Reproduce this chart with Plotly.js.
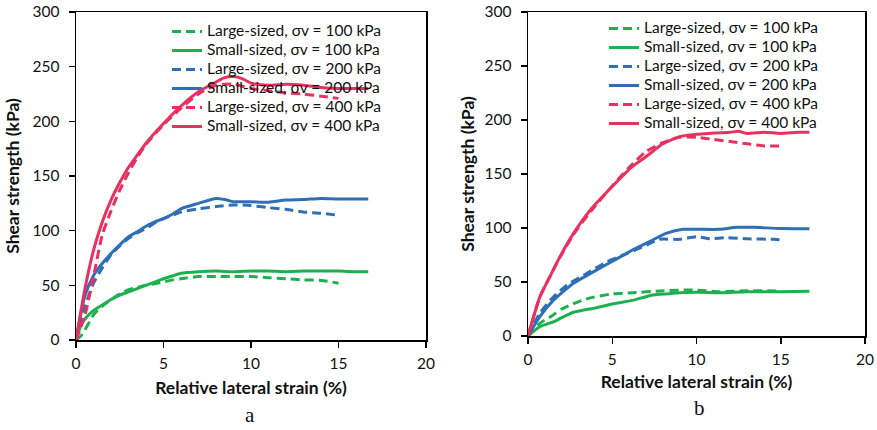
<!DOCTYPE html>
<html>
<head>
<meta charset="utf-8">
<script src="https://cdn.plot.ly/plotly-3.0.1.min.js"></script>
<style>html,body{margin:0;padding:0;background:#fff;}#chart{width:877px;height:430px;}</style>
</head>
<body>
<div id="chart"></div>
<script>
// ---- Panel a ----
const aL100x = [0, 0.3, 0.5, 1, 1.5, 2, 2.5, 3, 3.5, 4, 4.5, 5, 5.5, 6, 7, 8, 9, 10, 11, 12, 13, 14, 15];
const aL100y = [0, 4, 9, 23, 31, 37, 42, 46, 48, 50, 51.5, 53, 55, 56, 58, 58, 58, 58, 57, 56, 55, 54.5, 52];
const aS100x = [0, 0.3, 0.5, 1, 1.5, 2, 2.5, 3, 3.5, 4, 4.5, 5, 5.5, 6, 7, 8, 9, 10, 11, 12, 13, 14, 15, 16, 16.7];
const aS100y = [0, 14, 19, 27, 32, 37, 41, 44, 47, 50, 53, 56, 58.5, 61, 62.5, 63, 62.5, 63, 63, 62.5, 63, 63, 63, 62.5, 62.5];
const aL200x = [0, 0.5, 1, 1.5, 2, 2.5, 3, 3.5, 4, 4.5, 5, 5.5, 6, 7, 8, 9, 10, 11, 12, 13, 14, 15];
const aL200y = [0, 30, 52, 66, 78, 86, 93, 98, 102, 107, 111, 114, 117, 120, 122, 123.5, 123, 121, 119.5, 117, 116, 114];
const aS200x = [0, 0.5, 1, 1.5, 2, 2.5, 3, 3.5, 4, 4.5, 5, 5.5, 6, 7, 8, 8.5, 9, 10, 11, 12, 13, 14, 15, 16, 16.7];
const aS200y = [0, 40, 59, 70, 79, 87, 94.5, 99, 104, 108, 111, 115, 120, 125, 129.5, 128.5, 126.5, 126.5, 126, 128, 128.5, 129.5, 129, 129, 129];
const aL400x = [0, 0.5, 1, 1.5, 2, 2.5, 3, 3.5, 4, 5, 6, 7, 8, 9, 10, 11, 12, 13, 14, 15];
const aL400y = [0, 22, 58, 96, 118, 137, 153, 167, 179, 197, 212, 225, 233, 234, 230, 228, 226, 225, 223, 221];
const aS400x = [0, 0.5, 1, 1.5, 2, 2.5, 3, 3.5, 4, 5, 6, 7, 8, 8.5, 9, 9.5, 10, 11, 12, 13, 14, 15, 16, 16.7];
const aS400y = [0, 46, 82, 108, 128, 144, 158, 169, 180, 198, 214, 227, 236, 240, 241, 239, 235, 233, 234, 233, 231, 230, 230, 230];

// ---- Panel b ----
const bL100x = [0, 0.7, 1.5, 2, 2.7, 3.3, 3.9, 5, 6.2, 7.8, 9.8, 11.4, 13, 15];
const bL100y = [0, 11.7, 19.4, 25, 30, 33.5, 36, 39, 40, 41.7, 42.6, 41, 42, 41.7];
const bS100x = [0, 0.7, 1.5, 2, 2.7, 3.3, 3.9, 5, 6.2, 7.4, 8.6, 10, 11.4, 13, 15, 16.7];
const bS100y = [0, 8.6, 13, 17, 22, 24, 25.6, 29.6, 33, 38, 39.5, 40.4, 40, 41, 41, 41.4];
const bL200x = [0, 0.7, 1.5, 2.3, 3.5, 4.7, 5.9, 7, 7.8, 9, 10, 10.8, 11.8, 13, 14.6, 15];
const bL200y = [0, 21, 36, 47, 58, 68.8, 76.5, 84, 89.5, 89.5, 92, 90, 91, 90, 89.5, 89];
const bS200x = [0, 0.7, 1.5, 2.7, 3.9, 5.1, 6.2, 7.4, 8.2, 9.2, 10, 11.4, 12.4, 13.4, 15, 16.7];
const bS200y = [0, 18, 33, 48.8, 59.6, 70, 79.6, 88.9, 95, 98.8, 98.8, 98.8, 100.6, 100.6, 99.6, 99.4];
const bL400x = [0, 0.7, 1.3, 1.9, 2.7, 3.7, 5, 6, 7, 8, 9, 10, 11, 12, 13, 14, 15];
const bL400y = [0, 36, 55, 73, 94, 115, 139, 156, 170.7, 179, 184, 184, 182, 180, 178, 176, 176];
const bS400x = [0, 0.7, 1.3, 1.9, 2.7, 3.7, 5.1, 6.2, 7, 8, 9, 9.5, 10, 11, 12, 12.5, 13, 14, 15, 16, 16.7];
const bS400y = [0, 36, 55, 73.5, 95, 116.7, 140, 157, 166, 178, 184.6, 186, 186.7, 188, 188.6, 189.5, 187.6, 188.6, 187.6, 188.6, 188.6];

const names = ['Large-sized, σv = 100 kPa', 'Small-sized, σv = 100 kPa',
               'Large-sized, σv = 200 kPa', 'Small-sized, σv = 200 kPa',
               'Large-sized, σv = 400 kPa', 'Small-sized, σv = 400 kPa'];

const GREEN = '#1DB04E', BLUE = '#2E6FB5', PINK = '#E9305F';
const DASH = '9px,5px';
const LEGEND_TEXT_SIZE = 15.5;

function tr(x, y, name, color, dashed, ax, leg) {
  return {
    x: x, y: y, name: '<span style="font-size:' + LEGEND_TEXT_SIZE + 'px">' + name + '</span>',
    type: 'scatter', mode: 'lines',
    line: {color: color, width: 3, dash: dashed ? DASH : 'solid', shape: 'spline', smoothing: 0.6},
    xaxis: ax.x, yaxis: ax.y, legend: leg
  };
}
const A = {x: 'x', y: 'y'}, B = {x: 'x2', y: 'y2'};
const data = [
  tr(aL100x, aL100y, names[0], GREEN, true, A, 'legend'),
  tr(aS100x, aS100y, names[1], GREEN, false, A, 'legend'),
  tr(aL200x, aL200y, names[2], BLUE, true, A, 'legend'),
  tr(aS200x, aS200y, names[3], BLUE, false, A, 'legend'),
  tr(aL400x, aL400y, names[4], PINK, true, A, 'legend'),
  tr(aS400x, aS400y, names[5], PINK, false, A, 'legend'),
  tr(bL100x, bL100y, names[0], GREEN, true, B, 'legend2'),
  tr(bS100x, bS100y, names[1], GREEN, false, B, 'legend2'),
  tr(bL200x, bL200y, names[2], BLUE, true, B, 'legend2'),
  tr(bS200x, bS200y, names[3], BLUE, false, B, 'legend2'),
  tr(bL400x, bL400y, names[4], PINK, true, B, 'legend2'),
  tr(bS400x, bS400y, names[5], PINK, false, B, 'legend2')
];

const W = 877, H = 430;
const FONT = 'Lato, "Noto Sans", sans-serif';
function xax(domain, anchor, standoff) {
  return {
    domain: domain, anchor: anchor, range: [0, 20], dtick: 5, tick0: 0,
    showgrid: false, zeroline: false, showline: true, linecolor: '#000', linewidth: 1.5,
    mirror: true, ticks: 'outside', ticklen: 6, tickcolor: '#000', tickwidth: 1.5,
    ticklabelstandoff: 3,
    tickfont: {family: FONT, size: 15.5, color: '#111'},
    title: {text: '<b>Relative lateral strain (%)</b>', font: {family: FONT, size: 17.5, color: '#111'}, standoff: standoff}
  };
}
function yax(domain, anchor, standoff) {
  return {
    domain: domain, anchor: anchor, range: [0, 300], dtick: 50, tick0: 0,
    showgrid: false, zeroline: false, showline: true, linecolor: '#000', linewidth: 1.5,
    mirror: true, ticks: 'outside', ticklen: 6, tickcolor: '#000', tickwidth: 1.5,
    ticklabelstandoff: 6,
    tickfont: {family: FONT, size: 15.5, color: '#111'},
    title: {text: '<b>Shear strength (kPa)</b>', font: {family: FONT, size: 17.5, color: '#111'}, standoff: standoff}
  };
}

const layout = {
  width: W, height: H,
  margin: {l: 0, r: 0, t: 0, b: 0},
  paper_bgcolor: '#fff', plot_bgcolor: '#fff',
  showlegend: true,
  xaxis: xax([76 / W, 426 / W], 'y', 10),
  yaxis: yax([1 - 340 / H, 1 - 12 / H], 'x', 8),
  xaxis2: xax([528 / W, 865 / W], 'y2', 8),
  yaxis2: yax([1 - 336 / H, 1 - 12 / H], 'x2', 5),
  legend: {x: 167 / W, y: 1 - 17 / H, xanchor: 'left', yanchor: 'top',
           bgcolor: 'rgba(0,0,0,0)', borderwidth: 0,
           font: {family: FONT, size: 12.3, color: '#111'}},
  legend2: {x: 604 / W, y: 1 - 14 / H, xanchor: 'left', yanchor: 'top',
            bgcolor: 'rgba(0,0,0,0)', borderwidth: 0,
            font: {family: FONT, size: 11.4, color: '#111'}},
  annotations: [
    {text: 'a', x: 250 / W, y: 1 - 415 / H, xref: 'paper', yref: 'paper', showarrow: false,
     xanchor: 'center', yanchor: 'middle',
     font: {family: '"Liberation Serif", "Times New Roman", serif', size: 21, color: '#111'}},
    {text: 'b', x: 699 / W, y: 1 - 408 / H, xref: 'paper', yref: 'paper', showarrow: false,
     xanchor: 'center', yanchor: 'middle',
     font: {family: '"Liberation Serif", "Times New Roman", serif', size: 21, color: '#111'}}
  ]
};

Plotly.newPlot('chart', data, layout, {displayModeBar: false, staticPlot: true});
</script>
</body>
</html>
